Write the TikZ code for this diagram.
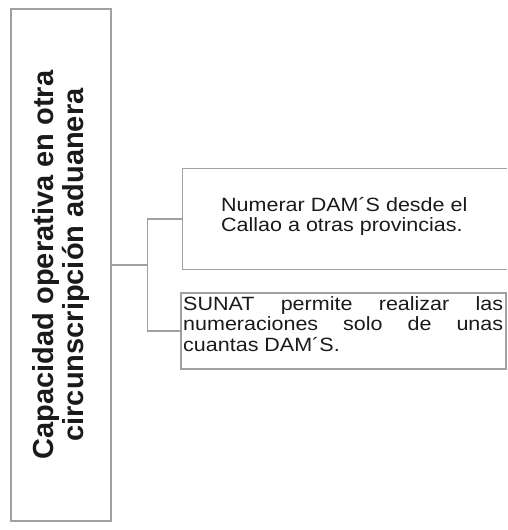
\documentclass[tikz,border=0pt]{standalone}
\usepackage{fontspec}
\setmainfont{Liberation Sans}
\newfontfamily\stretchfont[FakeStretch=1.12]{Liberation Sans}
\definecolor{linegray}{HTML}{A0A0A0}
\definecolor{textdark}{HTML}{1A1A1A}
\hyphenpenalty=10000
\exhyphenpenalty=10000
\begin{document}
\begin{tikzpicture}[x=1pt,y=-1pt]
\tikzset{
  frame/.style={draw=linegray, line width=1.3pt, inner sep=0pt},
  conn/.style={draw=linegray, line width=1.3pt},
  bodytext/.style={inner sep=0pt, text=textdark,
    font=\stretchfont\fontsize{19.2}{20.5}\selectfont},
  titletext/.style={text=textdark, align=center,
    font=\bfseries\fontsize{29}{30}\selectfont},
}
\useasboundingbox (0,0) rectangle (507,530);
% left vertical box
\node[frame, titletext, rotate=90, minimum width=512pt, minimum height=100pt] (L) at (61,265)
  {Capacidad operativa en otra\\circunscripción aduanera};
% top right box (open on the right, cut by the page edge)
\node[minimum width=324pt, minimum height=100pt, inner sep=0pt] (T) at (345,219) {};
\draw[conn] (T.north east) -- (T.north west) -- (T.south west) -- (T.south east);
\node[bodytext, anchor=north west, align=left] (Tt) at (221,197)
  {Numerar DAM´S desde el\\Callao a otras provincias.};
% bottom right box
\node[frame, minimum width=325pt, minimum height=76pt] (B) at (343.5,331) {};
\node[bodytext, anchor=north west, text width=320pt, align=justify] (Bt) at (183,296)
  {SUNAT permite realizar las\linebreak numeraciones solo de unas\linebreak cuantas DAM´S.};
% connectors
\path (L.south) ++(36,0) coordinate (J);
\draw[conn] (L.south) -- (J);
\draw[conn] (T.west) -| (J) |- (B.west);
\end{tikzpicture}
\end{document}
